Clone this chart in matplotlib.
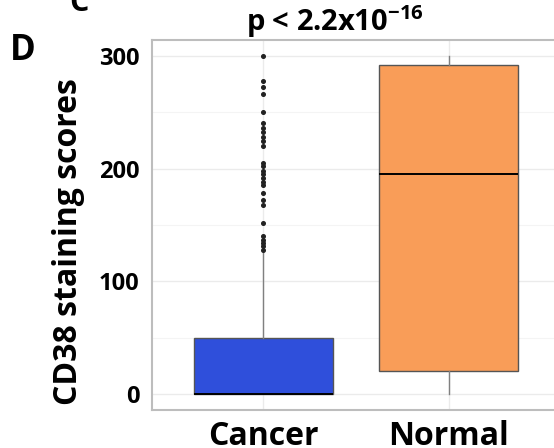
import matplotlib
matplotlib.use('Agg')
import matplotlib.pyplot as plt

plt.rcParams['font.family'] = ['Open Sans', 'DejaVu Sans']
plt.rcParams['mathtext.fontset'] = 'custom'
plt.rcParams['mathtext.rm'] = 'Open Sans'
plt.rcParams['mathtext.bf'] = 'Open Sans:bold'

# box summary
groups = ['Cancer', 'Normal']
box_min = [0, 0]
box_q1 = [0, 20]
box_med = [0, 195]
box_q3 = [50, 292]
box_max = [125, 300]
cancer_outliers = [300, 278, 272, 266, 250, 240, 236, 232, 228, 224, 220,
                   205, 202, 198, 195, 192, 188, 185, 178, 172, 168, 152,
                   140, 137, 134, 131, 128]
normal_outliers = []
colors = ['#2F4FDB', '#F99D58']
yticks = [0, 100, 200, 300]

fig = plt.figure(figsize=(5.54, 4.48), dpi=100)
ax = fig.add_axes([0.2744, 0.0848, 0.7364, 0.8259])

stats = []
fliers = [cancer_outliers, normal_outliers]
for i, g in enumerate(groups):
    stats.append({'label': g, 'whislo': box_min[i], 'q1': box_q1[i],
                  'med': box_med[i], 'q3': box_q3[i], 'whishi': box_max[i],
                  'fliers': fliers[i]})

bp = ax.bxp(stats, positions=[1, 2], widths=0.75, patch_artist=True,
            showcaps=False,
            boxprops=dict(edgecolor='#555555', linewidth=1.0),
            whiskerprops=dict(color='#808080', linewidth=1.0),
            medianprops=dict(color='black', linewidth=1.4),
            flierprops=dict(marker='o', markersize=2.6, markerfacecolor='#222222',
                            markeredgecolor='#222222', linestyle='none'))
for patch, c in zip(bp['boxes'], colors):
    patch.set_facecolor(c)
    patch.set_zorder(2)

ax.set_xlim(0.4, 2.6)
ax.set_ylim(-14.2, 314)
ax.set_yticks(yticks)
ax.set_yticks([50, 150, 250], minor=True)
ax.set_xticks([1, 2])
ax.set_xticklabels(groups)
ax.grid(True, which='major', color='#EBEBEB', linewidth=1.0, zorder=0)
ax.grid(True, which='minor', axis='y', color='#F4F4F4', linewidth=0.8, zorder=0)
ax.set_axisbelow(True)
ax.tick_params(axis='both', which='both', length=0)
ax.tick_params(axis='y', labelsize=17, pad=9)
ax.tick_params(axis='x', labelsize=23, pad=7)
for lab in ax.get_xticklabels() + ax.get_yticklabels():
    lab.set_fontweight('bold')
for s in ax.spines.values():
    s.set_color('#BDBDBD')
    s.set_linewidth(1.5)

ax.set_ylabel('CD38 staining scores', fontsize=23, fontweight='bold')
ax.yaxis.set_label_coords(-0.165, 0.455)
ax.set_title(r'p < 2.2x10$^{\mathbf{-16}}$', fontsize=21, fontweight='bold', pad=6,
             x=(335 - 152) / (560 - 152))

fig.text(0.018, 0.865, 'D', fontsize=25, fontweight='bold')
fig.text(0.125, 0.975, 'C', fontsize=22, fontweight='bold')

fig.savefig('out.png', dpi=100)
